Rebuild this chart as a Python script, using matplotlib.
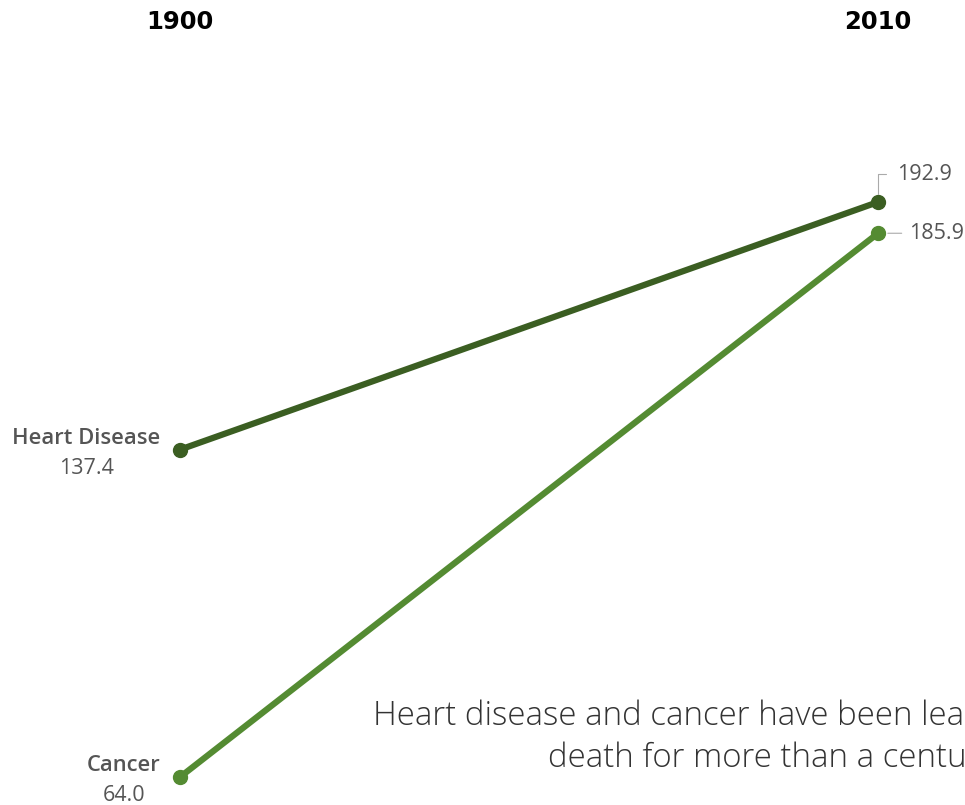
import matplotlib
matplotlib.use("Agg")
import matplotlib.pyplot as plt

years = [1900, 2010]
series_names = ["Heart Disease", "Cancer"]
heart_values = [137.4, 192.9]
cancer_values = [64.0, 185.9]
colors = ["#3b5e22", "#548b32"]
title = "Heart disease and cancer have been leading causes of\ndeath for more than a century."

fig = plt.figure(figsize=(9.65, 8.05), dpi=100)
ax = fig.add_axes([0, 0, 1, 1])
ax.set_xlim(1871.6, 2023.7)
ax.set_ylim(57.7, 238.2)
ax.axis("off")

for name, vals, c in zip(series_names, [heart_values, cancer_values], colors):
    ax.plot(years, vals, color=c, lw=4.5, marker="o", ms=10, solid_capstyle="round", zorder=3)
    ax.annotate(name, xy=(years[0], vals[0]), xytext=(-14, 8),
                textcoords="offset points", ha="right", va="center",
                fontsize=15.8, color="#555555", family="Open Sans", fontweight="semibold")
    ax.annotate(f"{vals[0]:.1f}", xy=(years[0], vals[0]), xytext=(-14, -13.5),
                textcoords="offset points", ha="center", va="center",
                fontsize=15.5, color="#555555", family="Open Sans")

# centre each value label under its name
fig.canvas.draw()
renderer = fig.canvas.get_renderer()
texts = [t for t in ax.texts]
for i in range(0, len(texts), 2):
    nm, vl = texts[i], texts[i + 1]
    bb = nm.get_window_extent(renderer)
    cx = (bb.x0 + bb.x1) / 2
    px, py = ax.transData.transform((years[0], [heart_values, cancer_values][i // 2][0]))
    vl.set_position((-(px - cx) * 72 / fig.dpi, -13.5))

# year headers
for yr in years:
    ax.text(yr, 1 - 22 / 805, str(yr), transform=ax.get_xaxis_transform(), ha="center", va="center",
            fontsize=17.5, fontweight="black", family="DejaVu Sans", color="black")

# right-hand value labels with leader lines
ax.annotate(f"{heart_values[1]:.1f}", xy=(years[1], heart_values[1]), xytext=(14, 20),
            textcoords="offset points", ha="left", va="center", fontsize=15.5, color="#555555",
            family="Open Sans",
            arrowprops=dict(arrowstyle="-", color="#aaaaaa", lw=0.8,
                            connectionstyle="angle,angleA=0,angleB=90,rad=0",
                            shrinkA=6, shrinkB=6))
ax.annotate(f"{cancer_values[1]:.1f}", xy=(years[1], cancer_values[1]), xytext=(22, 0),
            textcoords="offset points", ha="left", va="center", fontsize=15.5, color="#555555",
            family="Open Sans",
            arrowprops=dict(arrowstyle="-", color="#aaaaaa", lw=0.8, shrinkA=3, shrinkB=7))

fig.text(373 / 965, 1 - 737 / 805, title, ha="left", va="center", multialignment="center",
         fontsize=23.8, color="#333333", family="Open Sans", fontweight="light", linespacing=1.32)

fig.savefig("out.png", dpi=100, facecolor="white")
